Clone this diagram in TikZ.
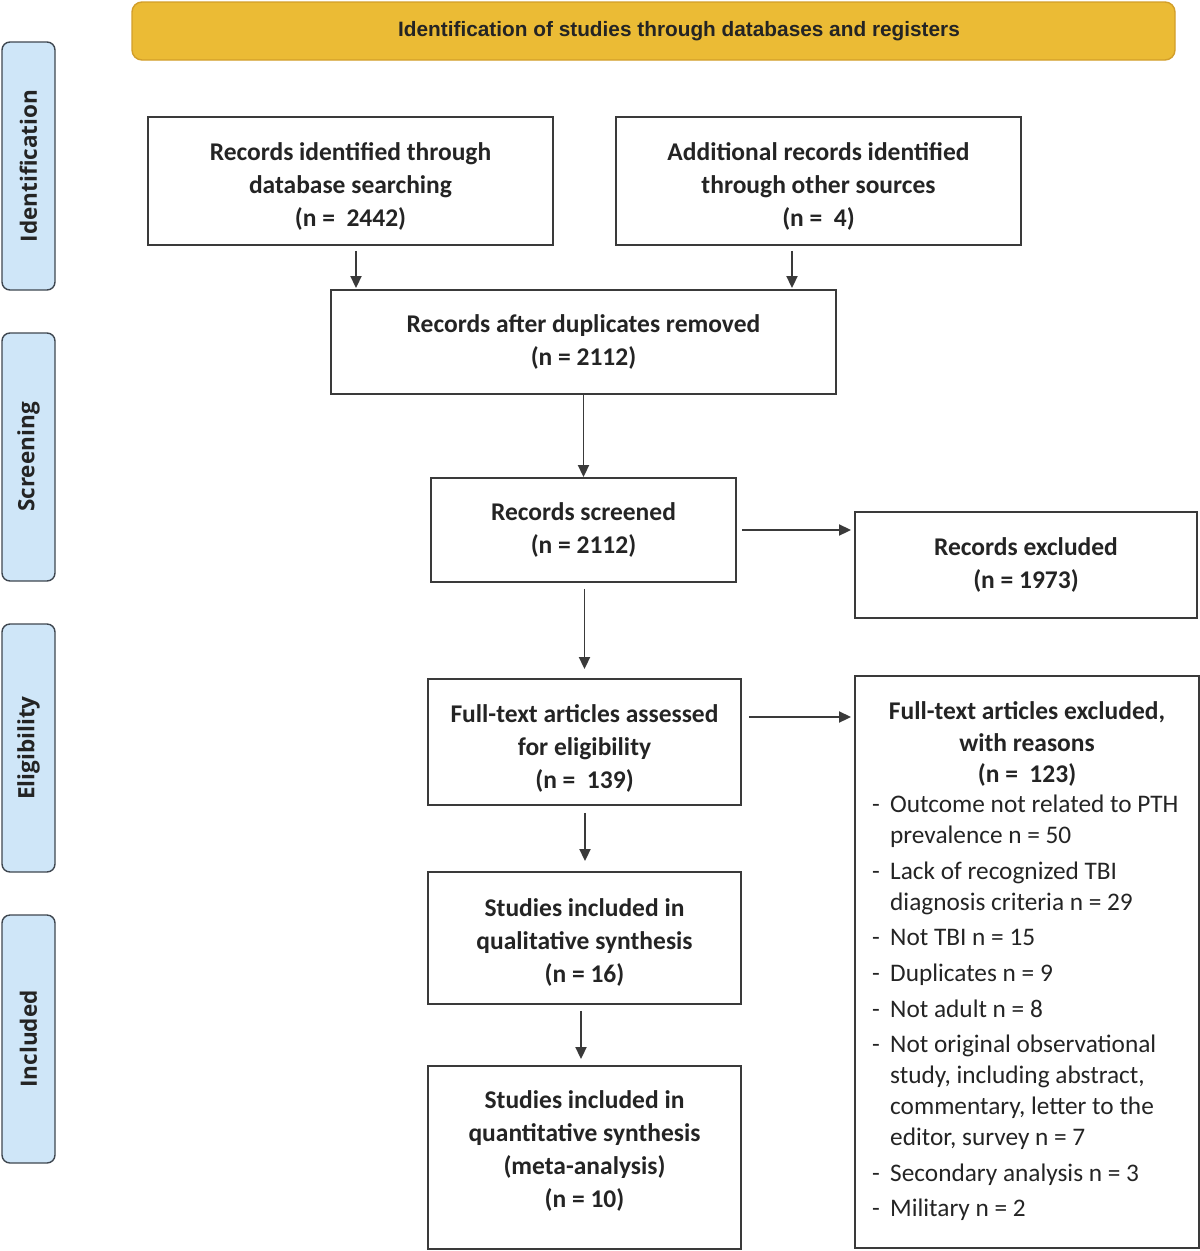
\documentclass[tikz,border=0pt]{standalone}
\usepackage{fontspec}
\setmainfont{Carlito}
\newfontfamily\headfont{Liberation Sans}
\newfontfamily\tabfont{Open Sans}
\usetikzlibrary{arrows.meta,calc}

\definecolor{boxline}{HTML}{3A3A3A}
\definecolor{txt}{HTML}{242424}
\definecolor{headfill}{HTML}{EBBB35}
\definecolor{headline}{HTML}{D29E2A}
\definecolor{tabfill}{HTML}{CFE6F8}
\definecolor{tabline}{HTML}{3F4750}

% struts that push the text of a box down or up
\newcommand\padtop[1]{\rule{0pt}{#1}}
\newcommand\padbot[1]{\rule[-#1]{0pt}{#1}}

\begin{document}
\begin{tikzpicture}[x=1pt,y=-1pt,
  box/.style={draw=boxline,line width=1.9pt,inner sep=0pt,align=center,text=txt,
    font=\fontsize{25.5}{33}\selectfont\bfseries},
  arr/.style={draw=boxline,line width=1.9pt,-{Triangle[width=11pt,length=12pt]}},
  phase/.style={draw=tabline,fill=tabfill,line width=1.4pt,rounded corners=8pt,
    minimum width=248pt,minimum height=53pt,inner sep=0pt,rotate=90,text=txt,
    font=\tabfont\bfseries\fontsize{22.5}{26}\selectfont}]
  \useasboundingbox (0,0) rectangle (1200,1251);

  % banner and phase tabs
  \node[draw=headline,fill=headfill,line width=1.4pt,rounded corners=10pt,
    minimum width=1043pt,minimum height=58pt] (banner) at (653.5,31) {};
  \node[text=txt,font=\headfont\bfseries\fontsize{20.8}{24}\selectfont] (bannertext) at (679,31)
    {Identification of studies through databases and registers};

  \foreach \y/\lbl in {166/Identification,457/Screening,748/Eligibility,1039/Included} {
    \node[phase] (tab-\lbl) at (28.5,\y) {\lbl};
  }

  % boxes
  \node[box,minimum width=405pt,minimum height=128pt] (dbsearch) at (350.5,181)
    {\padtop{28pt}Records identified through\\database searching\\(n = \ 2442)};
  \node[box,minimum width=405pt,minimum height=128pt] (othersrc) at (818.5,181)
    {\padtop{28pt}Additional records identified\\through other sources\\(n = \ 4)};
  \node[box,minimum width=505pt,minimum height=104pt] (dedup) at (583.5,342)
    {Records after duplicates removed\\(n = 2112)};
  \node[box,minimum width=305pt,minimum height=104pt] (screened) at (583.5,530)
    {Records screened\\(n = 2112)};
  \node[box,minimum width=342pt,minimum height=106pt] (excluded) at (1026,565)
    {Records excluded\\(n = 1973)};
  \node[box,minimum width=313pt,minimum height=126pt] (fulltext) at (584.5,742)
    {\padtop{30pt}Full-text articles assessed\\for eligibility\\(n = \ 139)};
  \node[box,minimum width=313pt,minimum height=132pt] (qualit) at (584.5,938)
    {\padtop{26pt}Studies included in\\qualitative synthesis\\(n = 16)};
  \node[box,minimum width=313pt,minimum height=183pt] (quant) at (584.5,1157.5)
    {Studies included in\\quantitative synthesis\\(meta-analysis)\\(n = 10)\padbot{16pt}};
  \node[box,minimum width=344pt,minimum height=572pt] (fullexcl) at (1027,962) {};
  \node[align=center,text=txt,font=\fontsize{25.5}{31.5}\selectfont\bfseries] (fullexcltitle)
    at (1027,744) {Full-text articles excluded,\\with reasons\\(n = \ 123)};
  \node[align=left,anchor=north west,inner sep=0pt,text=txt,font=\fontsize{25.3}{31}\selectfont]
    (reasons) at (872,795) {%
    \makebox[18pt][l]{-}Outcome not related to PTH\\
    \hspace*{18pt}prevalence n = 50\\[4.6pt]
    \makebox[18pt][l]{-}Lack of recognized TBI\\
    \hspace*{18pt}diagnosis criteria n = 29\\[4.6pt]
    \makebox[18pt][l]{-}Not TBI n = 15\\[4.6pt]
    \makebox[18pt][l]{-}Duplicates n = 9\\[4.6pt]
    \makebox[18pt][l]{-}Not adult n = 8\\[4.6pt]
    \makebox[18pt][l]{-}Not original observational\\
    \hspace*{18pt}study, including abstract,\\
    \hspace*{18pt}commentary, letter to the\\
    \hspace*{18pt}editor, survey n = 7\\[4.6pt]
    \makebox[18pt][l]{-}Secondary analysis n = 3\\[4.6pt]
    \makebox[18pt][l]{-}Military n = 2};

  % arrows
  \draw[arr] ($(dbsearch.south)+(5.5,5)$) -- ($(dbsearch.south |- dedup.north)+(5.5,-1)$);
  \draw[arr] ($(othersrc.south)+(-26.5,5)$) -- ($(othersrc.south |- dedup.north)+(-26.5,-1)$);
  \draw[arr] (dedup.south) -- (screened.north);
  \draw[arr] ($(screened.east)+(5,0)$) -- ($(screened.east -| excluded.west)+(-3,0)$);
  \draw[arr] ($(screened.south)+(1,6)$) -- ($(screened.south |- fulltext.north)+(1,-9)$);
  \draw[arr] ($(fulltext.east)+(7,-25)$) -- ($(fulltext.east -| fullexcl.west)+(-3,-25)$);
  \draw[arr] ($(fulltext.south)+(0.5,7)$) -- ($(fulltext.south |- qualit.north)+(0.5,-10)$);
  \draw[arr] ($(qualit.south)+(-3.5,6)$) -- ($(qualit.south |- quant.north)+(-3.5,-6)$);
\end{tikzpicture}
\end{document}
